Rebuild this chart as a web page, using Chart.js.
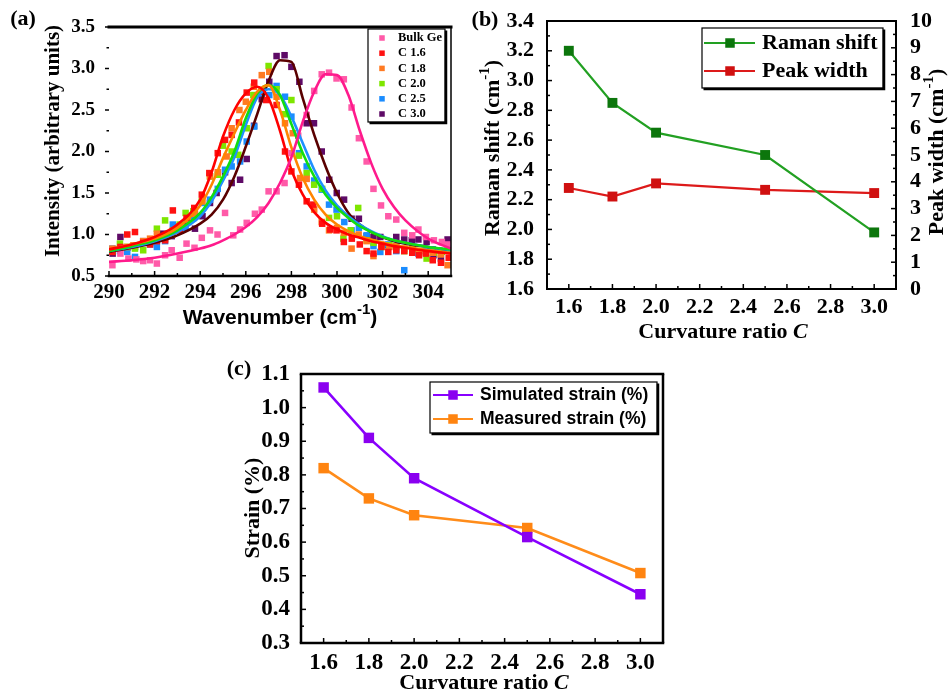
<!DOCTYPE html>
<html><head><meta charset="utf-8">
<script src="https://cdn.jsdelivr.net/npm/chart.js@4.4.0/dist/chart.umd.min.js"></script>
<style>
html,body{margin:0;padding:0;background:#fff;width:948px;height:696px;overflow:hidden}
canvas{position:absolute}
#ca{left:0;top:0}
#cb{left:470px;top:0}
#cc{left:200px;top:340px}
</style></head><body>
<canvas id="ca" width="470" height="340"></canvas>
<canvas id="cb" width="478" height="340"></canvas>
<canvas id="cc" width="500" height="356"></canvas>
<script>
// ---------------- DATA ----------------
// Panel (a): Raman spectra
const seriesLabelsA = ['Bulk Ge', 'C 1.6', 'C 1.8', 'C 2.0', 'C 2.5', 'C 3.0'];
const xTicksA = [290, 292, 294, 296, 298, 300, 302, 304];
const yTicksA = [0.5, 1.0, 1.5, 2.0, 2.5, 3.0, 3.5];
const fitX = [290,291,292,293,294,294.5,295,295.5,296,296.5,297,297.5,298,298.5,299,299.5,300,300.5,301,301.5,302,302.5,303,304,305];
const fitBulkGe = [0.67,0.69,0.72,0.77,0.83,0.87,0.93,1.00,1.09,1.21,1.38,1.62,1.93,2.36,2.72,2.93,2.92,2.68,2.25,1.86,1.55,1.33,1.17,0.95,0.83];
const fitC16 = [0.82,0.88,0.97,1.12,1.42,1.75,2.18,2.50,2.70,2.78,2.64,2.25,1.78,1.48,1.27,1.14,1.06,1.00,0.96,0.92,0.89,0.86,0.84,0.80,0.77];
const fitC18 = [0.82,0.88,0.95,1.08,1.35,1.60,1.92,2.22,2.50,2.72,2.80,2.50,2.05,1.68,1.42,1.24,1.12,1.04,0.98,0.94,0.90,0.87,0.85,0.81,0.78];
const fitC20 = [0.80,0.86,0.93,1.05,1.26,1.45,1.70,2.00,2.40,2.70,2.80,2.68,2.33,1.98,1.70,1.48,1.32,1.20,1.10,1.03,0.97,0.93,0.90,0.85,0.82];
const fitC25 = [0.80,0.85,0.92,1.03,1.22,1.40,1.65,1.93,2.32,2.65,2.75,2.68,2.42,2.10,1.78,1.53,1.35,1.22,1.12,1.04,0.98,0.93,0.90,0.85,0.81];
const fitC30 = [0.79,0.84,0.90,0.99,1.13,1.24,1.42,1.70,2.06,2.45,2.85,3.10,3.08,2.64,2.20,1.82,1.50,1.26,1.12,1.03,0.97,0.92,0.89,0.85,0.81];

const ptsBulkGe = [[290.15,0.63],[290.5,0.77],[290.85,0.71],[291.2,0.70],[291.5,0.68],[291.8,0.69],[292.1,0.65],[292.46,0.75],[292.75,0.81],[293.1,0.72],[293.4,0.89],[293.75,0.84],[294.07,0.96],[294.43,1.05],[294.76,1.00],[295.09,1.26],[295.45,0.99],[295.75,1.06],[296.04,1.14],[296.4,1.25],[296.7,1.30],[297.0,1.52],[297.35,1.52],[297.7,1.62],[298.0,1.98],[298.3,2.19],[298.67,2.44],[299.0,2.73],[299.33,2.93],[299.65,2.95],[299.98,2.88],[300.3,2.87],[300.64,2.53],[300.96,2.16],[301.3,1.88],[301.6,1.55],[301.93,1.35],[302.25,1.22],[302.6,1.18],[302.95,1.02],[303.3,0.99],[303.57,1.06],[303.9,0.97],[304.25,0.93],[304.6,0.91],[304.85,0.88]];
const ptsC16 = [[290.15,0.79],[290.5,0.85],[290.8,1.00],[291.14,1.03],[291.5,0.90],[291.8,0.88],[292.1,0.92],[292.46,0.93],[292.8,1.29],[293.1,1.05],[293.4,1.20],[293.74,1.32],[294.07,1.48],[294.4,1.74],[294.77,1.98],[295.09,2.14],[295.38,2.20],[295.7,2.35],[296.04,2.71],[296.37,2.83],[296.7,2.72],[296.9,2.62],[297.35,2.56],[297.72,2.00],[298.0,1.76],[298.33,1.60],[298.67,1.40],[298.96,1.36],[299.35,1.13],[299.7,1.06],[299.98,1.05],[300.3,0.91],[300.65,0.95],[301.0,0.88],[301.3,0.80],[301.6,0.77],[301.95,0.85],[302.25,0.79],[302.6,0.81],[302.95,0.80],[303.3,0.78],[303.6,0.75],[303.9,0.77],[304.2,0.69],[304.56,0.66],[304.9,0.72]];
const ptsC18 = [[290.15,0.83],[290.48,0.83],[290.8,0.85],[291.07,0.87],[291.5,0.92],[291.8,0.95],[292.1,1.01],[292.46,0.95],[292.8,1.00],[293.1,1.10],[293.45,1.18],[293.77,1.25],[294.1,1.40],[294.43,1.70],[294.77,1.75],[295.16,1.94],[295.38,2.28],[295.72,2.50],[296.0,2.60],[296.35,2.78],[296.7,2.92],[297.03,2.96],[297.35,2.66],[297.72,2.34],[298.06,2.22],[298.38,1.68],[298.67,1.67],[299.0,1.30],[299.33,1.15],[299.65,1.05],[300.0,1.08],[300.3,1.02],[300.64,0.83],[300.95,1.00],[301.3,0.92],[301.6,0.74],[301.95,0.88],[302.3,0.85],[302.6,0.86],[302.95,0.83],[303.3,0.82],[303.6,0.80],[303.9,0.78],[304.2,0.78],[304.55,0.76],[304.85,0.63]];
const ptsC20 = [[290.15,0.80],[290.48,0.89],[290.8,0.85],[291.14,0.83],[291.5,0.81],[291.8,0.92],[292.1,1.07],[292.46,1.17],[292.8,1.05],[293.1,1.12],[293.36,1.26],[293.7,1.28],[294.07,1.40],[294.43,1.70],[294.77,1.72],[295.0,2.07],[295.38,2.00],[295.67,1.96],[296.04,2.28],[296.33,2.68],[296.7,2.72],[297.0,3.03],[297.35,2.75],[297.7,2.45],[298.0,2.62],[298.33,1.95],[298.67,1.74],[299.0,1.60],[299.35,1.55],[299.65,1.20],[300.0,1.22],[300.28,0.95],[300.6,1.05],[300.93,1.32],[301.3,0.93],[301.6,0.90],[301.95,0.85],[302.3,0.87],[302.6,0.85],[302.95,0.80],[303.3,0.83],[303.6,0.80],[303.93,0.71],[304.25,0.78],[304.6,0.79]];
const ptsC25 = [[290.15,0.83],[290.48,0.80],[290.8,0.79],[291.14,0.73],[291.5,0.90],[291.8,0.88],[292.1,0.85],[292.46,0.92],[292.8,1.12],[293.1,1.05],[293.36,1.08],[293.7,1.20],[294.07,1.38],[294.43,1.42],[294.77,1.55],[295.09,1.78],[295.38,1.82],[295.75,1.88],[296.04,2.12],[296.37,2.30],[296.7,2.70],[297.03,2.68],[297.35,2.79],[297.72,2.66],[298.0,2.42],[298.33,1.98],[298.67,1.82],[299.0,1.65],[299.33,1.54],[299.65,1.36],[299.98,1.30],[300.32,1.15],[300.64,1.05],[300.96,1.08],[301.3,0.99],[301.6,0.86],[301.9,0.79],[302.25,0.88],[302.6,0.80],[302.95,0.57],[303.3,0.82],[303.57,0.77],[303.9,0.80],[304.2,0.82],[304.55,0.80],[304.85,0.83]];
const ptsC30 = [[290.16,0.77],[290.5,0.97],[290.8,0.84],[291.14,0.85],[291.5,0.92],[291.8,0.90],[292.1,0.93],[292.38,1.01],[292.75,0.98],[293.1,1.10],[293.41,1.15],[293.77,1.07],[294.1,1.22],[294.43,1.38],[294.72,1.50],[295.09,1.75],[295.38,1.62],[295.75,1.66],[296.04,1.91],[296.36,2.31],[296.7,2.63],[297.03,2.84],[297.35,3.15],[297.7,3.16],[298.0,3.02],[298.35,2.84],[298.67,2.34],[298.99,2.34],[299.33,2.00],[299.66,1.66],[299.99,1.50],[300.31,1.42],[300.64,1.19],[300.96,1.19],[301.3,0.98],[301.6,0.97],[301.9,0.97],[302.25,0.87],[302.6,0.97],[302.95,0.94],[303.28,0.93],[303.57,0.94],[303.93,0.91],[304.23,0.75],[304.56,0.71],[304.85,0.94]];

// Panel (b)
const curvatureRatio = [1.6, 1.8, 2.0, 2.5, 3.0];
const ramanShift = [3.20, 2.85, 2.65, 2.50, 1.98];
const peakWidth = [3.77, 3.45, 3.94, 3.70, 3.58];
const xTicksBC = [1.6, 1.8, 2.0, 2.2, 2.4, 2.6, 2.8, 3.0];
const yTicksBLeft = [1.6, 1.8, 2.0, 2.2, 2.4, 2.6, 2.8, 3.0, 3.2, 3.4];
const yTicksBRight = [0, 1, 2, 3, 4, 5, 6, 7, 8, 9, 10];

// Panel (c)
const simulatedStrain = [1.06, 0.91, 0.79, 0.615, 0.445];
const measuredStrain = [0.82, 0.73, 0.68, 0.642, 0.508];
const yTicksC = [0.3, 0.4, 0.5, 0.6, 0.7, 0.8, 0.9, 1.0, 1.1];

// ---------------- HELPERS ----------------
const SERIF = '"Liberation Serif","Times New Roman",serif';
const SANS = '"Liberation Sans",Arial,sans-serif';

function drawRich(ctx, segs, x, y, rot) {
  ctx.save();
  ctx.translate(x, y);
  ctx.rotate(rot || 0);
  ctx.textBaseline = 'middle';
  ctx.textAlign = 'left';
  ctx.fillStyle = '#000';
  let total = 0;
  segs.forEach(s => { ctx.font = s.font; s.w = ctx.measureText(s.t).width; total += s.w; });
  let cx = -total / 2;
  segs.forEach(s => { ctx.font = s.font; ctx.fillText(s.t, cx, s.dy || 0); cx += s.w; });
  ctx.restore();
}

const deco = {
  id: 'deco',
  afterDraw(chart, args, o) {
    const ctx = chart.ctx, a = chart.chartArea;
    ctx.save();
    ctx.strokeStyle = '#000';
    ctx.lineCap = 'butt';
    (o.ticks || []).forEach(t => {
      const s = chart.scales[t.scale];
      const vals = s.ticks.map(k => k.value);
      const minors = [];
      for (let i = 0; i < vals.length - 1; i++)
        for (let j = 1; j < t.div; j++) minors.push(vals[i] + (vals[i + 1] - vals[i]) * j / t.div);
      ctx.lineWidth = t.lw || 1.5;
      const draw = (v, len) => {
        const p = s.getPixelForValue(v);
        ctx.beginPath();
        if (t.edge === 'bottom') { ctx.moveTo(p, a.bottom); ctx.lineTo(p, a.bottom - t.dir * len); }
        else if (t.edge === 'left') { ctx.moveTo(a.left, p); ctx.lineTo(a.left + t.dir * len, p); }
        else if (t.edge === 'right') { ctx.moveTo(a.right, p); ctx.lineTo(a.right - t.dir * len, p); }
        ctx.stroke();
      };
      vals.forEach(v => draw(v, t.len));
      minors.forEach(v => draw(v, t.mlen));
    });
    (o.frame || []).forEach(f => {
      ctx.lineWidth = f.w;
      ctx.beginPath();
      if (f.side === 'top') { ctx.moveTo(a.left - f.w / 2, a.top); ctx.lineTo(a.right + f.w / 2, a.top); }
      if (f.side === 'bottom') { ctx.moveTo(a.left - f.w / 2, a.bottom); ctx.lineTo(a.right + f.w / 2, a.bottom); }
      if (f.side === 'left') { ctx.moveTo(a.left, a.top); ctx.lineTo(a.left, a.bottom); }
      if (f.side === 'right') { ctx.moveTo(a.right, a.top); ctx.lineTo(a.right, a.bottom); }
      ctx.stroke();
    });
    const L = o.legend;
    if (L) {
      const [bx, by, bw, bh] = L.box;
      ctx.fillStyle = '#fff';
      ctx.fillRect(bx, by, bw, bh);
      ctx.lineWidth = 1.2;
      ctx.strokeRect(bx, by, bw, bh);
      ctx.lineWidth = 2.5;
      ctx.beginPath();
      ctx.moveTo(bx + 1.5, by + bh + 1); ctx.lineTo(bx + bw + 1, by + bh + 1); ctx.lineTo(bx + bw + 1, by + 1.5);
      ctx.stroke();
      L.items.forEach((di, k) => {
        const ds = chart.data.datasets[di];
        const y = L.y0 + k * L.dy;
        if (L.line) {
          ctx.strokeStyle = ds.borderColor; ctx.lineWidth = L.lw;
          ctx.beginPath(); ctx.moveTo(L.line[0], y); ctx.lineTo(L.line[1], y); ctx.stroke();
        }
        ctx.fillStyle = ds.pointBackgroundColor;
        ctx.fillRect(L.mx - L.ms / 2, y - L.ms / 2, L.ms, L.ms);
        ctx.fillStyle = '#000';
        ctx.font = L.font;
        ctx.textAlign = 'left'; ctx.textBaseline = 'middle';
        ctx.fillText(ds.label, L.tx, y + (L.tdy || 0));
        ctx.strokeStyle = '#000';
      });
    }
    (o.texts || []).forEach(t => drawRich(ctx, t.segs, t.x, t.y, t.rot));
    ctx.restore();
  }
};

const setTicks = arr => (s => { s.ticks = arr.map(v => ({ value: v })); });
const noGrid = { display: false };
const noBorder = { display: false };

// ---------------- PANEL (a) ----------------
const colA = {
  pts: ['#ff5aa8', '#ff1111', '#ff7a22', '#7ee600', '#1a8cff', '#5e0a66'],
  fit: ['#ff1a8c', '#ff0000', '#ff8400', '#11dd11', '#1e90ff', '#5a0000']
};
const fitsA = [fitBulkGe, fitC16, fitC18, fitC20, fitC25, fitC30];
const ptsA = [ptsBulkGe, ptsC16, ptsC18, ptsC20, ptsC25, ptsC30];
const dsA = [];
ptsA.forEach((p, i) => dsA.push({
  label: seriesLabelsA[i], data: p.map(q => ({ x: q[0], y: q[1] })),
  pointStyle: 'rect', pointRadius: 4.6, pointBackgroundColor: colA.pts[i], pointBorderWidth: 0,
  borderColor: colA.pts[i], showLine: false, order: 2
}));
fitsA.forEach((f, i) => dsA.push({
  label: seriesLabelsA[i] + ' fit', data: fitX.map((x, k) => ({ x: x, y: f[k] })),
  pointRadius: 0, showLine: true, borderColor: colA.fit[i], borderWidth: 2.6,
  cubicInterpolationMode: 'monotone', order: 1
}));

new Chart(document.getElementById('ca'), {
  type: 'scatter',
  data: { datasets: dsA },
  options: {
    responsive: false, animation: false, devicePixelRatio: 1,
    layout: { padding: { left: 0, right: 19, top: 27, bottom: 0 } },
    scales: {
      x: { type: 'linear', min: 290, max: 305, afterBuildTicks: setTicks(xTicksA),
        afterFit: s => { s.height = 64; }, grid: noGrid, border: noBorder,
        ticks: { color: '#000', padding: -4, autoSkip: false, maxRotation: 0, font: { family: SERIF, size: 21, weight: 'bold' } } },
      y: { min: 0.5, max: 3.5, afterBuildTicks: setTicks(yTicksA),
        afterFit: s => { s.width = 109; }, grid: noGrid, border: noBorder,
        ticks: { color: '#000', padding: 6, autoSkip: false, font: { family: SERIF, size: 19, weight: 'bold' },
          callback: v => v.toFixed(1) } }
    },
    plugins: {
      legend: { display: false }, tooltip: { enabled: false },
      deco: {
        ticks: [
          { scale: 'x', edge: 'bottom', dir: 1, len: 5, mlen: 3, div: 2 },
          { scale: 'y', edge: 'left', dir: -1, len: 4, mlen: 2.5, div: 2 }
        ],
        frame: [{ side: 'top', w: 3 }, { side: 'right', w: 1.5 }, { side: 'bottom', w: 2.5 }],
        legend: { box: [368, 29, 77, 93], items: [0, 1, 2, 3, 4, 5], y0: 38, dy: 15.2, mx: 382, ms: 5.5,
          tx: 398, font: 'bold 12.5px ' + SERIF },
        texts: [
          { segs: [{ t: '(a)', font: 'bold 22px ' + SERIF }], x: 23, y: 19 },
          { segs: [{ t: 'Wavenumber (cm', font: 'bold 21px ' + SANS }, { t: '-1', font: 'bold 15px ' + SANS, dy: -8 },
            { t: ')', font: 'bold 21px ' + SANS }], x: 280, y: 318 },
          { segs: [{ t: 'Intensity (arbitrary units)', font: 'bold 21px ' + SERIF }], x: 54, y: 141, rot: -Math.PI / 2 }
        ]
      }
    }
  },
  plugins: [deco]
});

// ---------------- PANEL (b) ----------------
new Chart(document.getElementById('cb'), {
  type: 'scatter',
  data: { datasets: [
    { label: 'Raman shift', data: curvatureRatio.map((x, i) => ({ x: x, y: ramanShift[i] })), yAxisID: 'y',
      showLine: true, borderColor: '#22a022', borderWidth: 2.2, pointStyle: 'rect', pointRadius: 7,
      pointBackgroundColor: '#0c760c', pointBorderWidth: 0 },
    { label: 'Peak width', data: curvatureRatio.map((x, i) => ({ x: x, y: peakWidth[i] })), yAxisID: 'y1',
      showLine: true, borderColor: '#dd1a1a', borderWidth: 2.2, pointStyle: 'rect', pointRadius: 7,
      pointBackgroundColor: '#d01010', pointBorderWidth: 0 }
  ] },
  options: {
    responsive: false, animation: false, devicePixelRatio: 1,
    layout: { padding: { left: 0, right: 0, top: 21, bottom: 0 } },
    scales: {
      x: { type: 'linear', min: 1.5, max: 3.1, afterBuildTicks: setTicks(xTicksBC),
        afterFit: s => { s.height = 51; }, grid: noGrid, border: noBorder,
        ticks: { color: '#000', padding: -3, autoSkip: false, maxRotation: 0, font: { family: SERIF, size: 22, weight: 'bold' }, callback: v => v.toFixed(1) } },
      y: { position: 'left', min: 1.6, max: 3.4, afterBuildTicks: setTicks(yTicksBLeft),
        afterFit: s => { s.width = 77; }, grid: noGrid, border: noBorder,
        ticks: { color: '#000', padding: 5, autoSkip: false, font: { family: SERIF, size: 22, weight: 'bold' }, callback: v => v.toFixed(1) } },
      y1: { position: 'right', min: 0, max: 10, afterBuildTicks: setTicks(yTicksBRight),
        afterFit: s => { s.width = 52; }, grid: noGrid, border: noBorder,
        ticks: { color: '#000', padding: 6, autoSkip: false, font: { family: SERIF, size: 22, weight: 'bold' } } }
    },
    plugins: {
      legend: { display: false }, tooltip: { enabled: false },
      deco: {
        ticks: [
          { scale: 'x', edge: 'bottom', dir: 1, len: 5, mlen: 3, div: 2 },
          { scale: 'y', edge: 'left', dir: 1, len: 5, mlen: 3, div: 2 },
          { scale: 'y1', edge: 'right', dir: 1, len: 5, mlen: 3, div: 2 }
        ],
        frame: [{ side: 'top', w: 2 }, { side: 'right', w: 2 }, { side: 'bottom', w: 2 }, { side: 'left', w: 2 }],
        legend: { box: [232, 28, 181, 60], items: [0, 1], y0: 43, dy: 28, mx: 260, ms: 9.5, line: [234, 285], lw: 2,
          tx: 292, font: 'bold 22px ' + SERIF },
        texts: [
          { segs: [{ t: '(b)', font: 'bold 22px ' + SERIF }], x: 15, y: 20 },
          { segs: [{ t: 'Curvature ratio ', font: 'bold 22px ' + SERIF }, { t: 'C', font: 'italic bold 22px ' + SERIF }], x: 253, y: 332 },
          { segs: [{ t: 'Raman shift (cm', font: 'bold 22px ' + SERIF }, { t: '-1', font: 'bold 15px ' + SERIF, dy: -8 },
            { t: ')', font: 'bold 22px ' + SERIF }], x: 23, y: 148, rot: -Math.PI / 2 },
          { segs: [{ t: 'Peak width (cm', font: 'bold 22px ' + SERIF }, { t: '-1', font: 'bold 15px ' + SERIF, dy: -8 },
            { t: ')', font: 'bold 22px ' + SERIF }], x: 467, y: 152, rot: -Math.PI / 2 }
        ]
      }
    }
  },
  plugins: [deco]
});

// ---------------- PANEL (c) ----------------
new Chart(document.getElementById('cc'), {
  type: 'scatter',
  data: { datasets: [
    { label: 'Simulated strain (%)', data: curvatureRatio.map((x, i) => ({ x: x, y: simulatedStrain[i] })),
      showLine: true, borderColor: '#8800ff', borderWidth: 2.6, pointStyle: 'rect', pointRadius: 7.4,
      pointBackgroundColor: '#8a00f0', pointBorderWidth: 0 },
    { label: 'Measured strain (%)', data: curvatureRatio.map((x, i) => ({ x: x, y: measuredStrain[i] })),
      showLine: true, borderColor: '#ff8c1a', borderWidth: 2.6, pointStyle: 'rect', pointRadius: 7.4,
      pointBackgroundColor: '#ff8410', pointBorderWidth: 0 }
  ] },
  options: {
    responsive: false, animation: false, devicePixelRatio: 1,
    layout: { padding: { left: 0, right: 37, top: 34, bottom: 0 } },
    scales: {
      x: { type: 'linear', min: 1.5, max: 3.1, afterBuildTicks: setTicks(xTicksBC),
        afterFit: s => { s.height = 53; }, grid: noGrid, border: noBorder,
        ticks: { color: '#000', padding: -2, autoSkip: false, maxRotation: 0, font: { family: SERIF, size: 23, weight: 'bold' }, callback: v => v.toFixed(1) } },
      y: { min: 0.3, max: 1.1, afterBuildTicks: setTicks(yTicksC),
        afterFit: s => { s.width = 101; }, grid: noGrid, border: noBorder,
        ticks: { color: '#000', padding: 3, autoSkip: false, font: { family: SERIF, size: 23, weight: 'bold' }, callback: v => v.toFixed(1) } }
    },
    plugins: {
      legend: { display: false }, tooltip: { enabled: false },
      deco: {
        ticks: [
          { scale: 'x', edge: 'bottom', dir: 1, len: 5, mlen: 3, div: 2 },
          { scale: 'y', edge: 'left', dir: 1, len: 5, mlen: 3, div: 2 }
        ],
        frame: [{ side: 'top', w: 2.5 }, { side: 'right', w: 2.5 }, { side: 'bottom', w: 2.5 }, { side: 'left', w: 2.5 }],
        legend: { box: [230, 42, 227, 51], items: [0, 1], y0: 55, dy: 24, mx: 253, ms: 9.5, line: [233, 273], lw: 2,
          tx: 280, font: 'bold 17.5px ' + SANS },
        texts: [
          { segs: [{ t: '(c)', font: 'bold 22px ' + SERIF }], x: 39, y: 29 },
          { segs: [{ t: 'Curvature ratio ', font: 'bold 22px ' + SERIF }, { t: 'C', font: 'italic bold 22px ' + SERIF }], x: 284, y: 343 },
          { segs: [{ t: 'Strain (%)', font: 'bold 22px ' + SERIF }], x: 53, y: 168, rot: -Math.PI / 2 }
        ]
      }
    }
  },
  plugins: [deco]
});
</script>
</body></html>
